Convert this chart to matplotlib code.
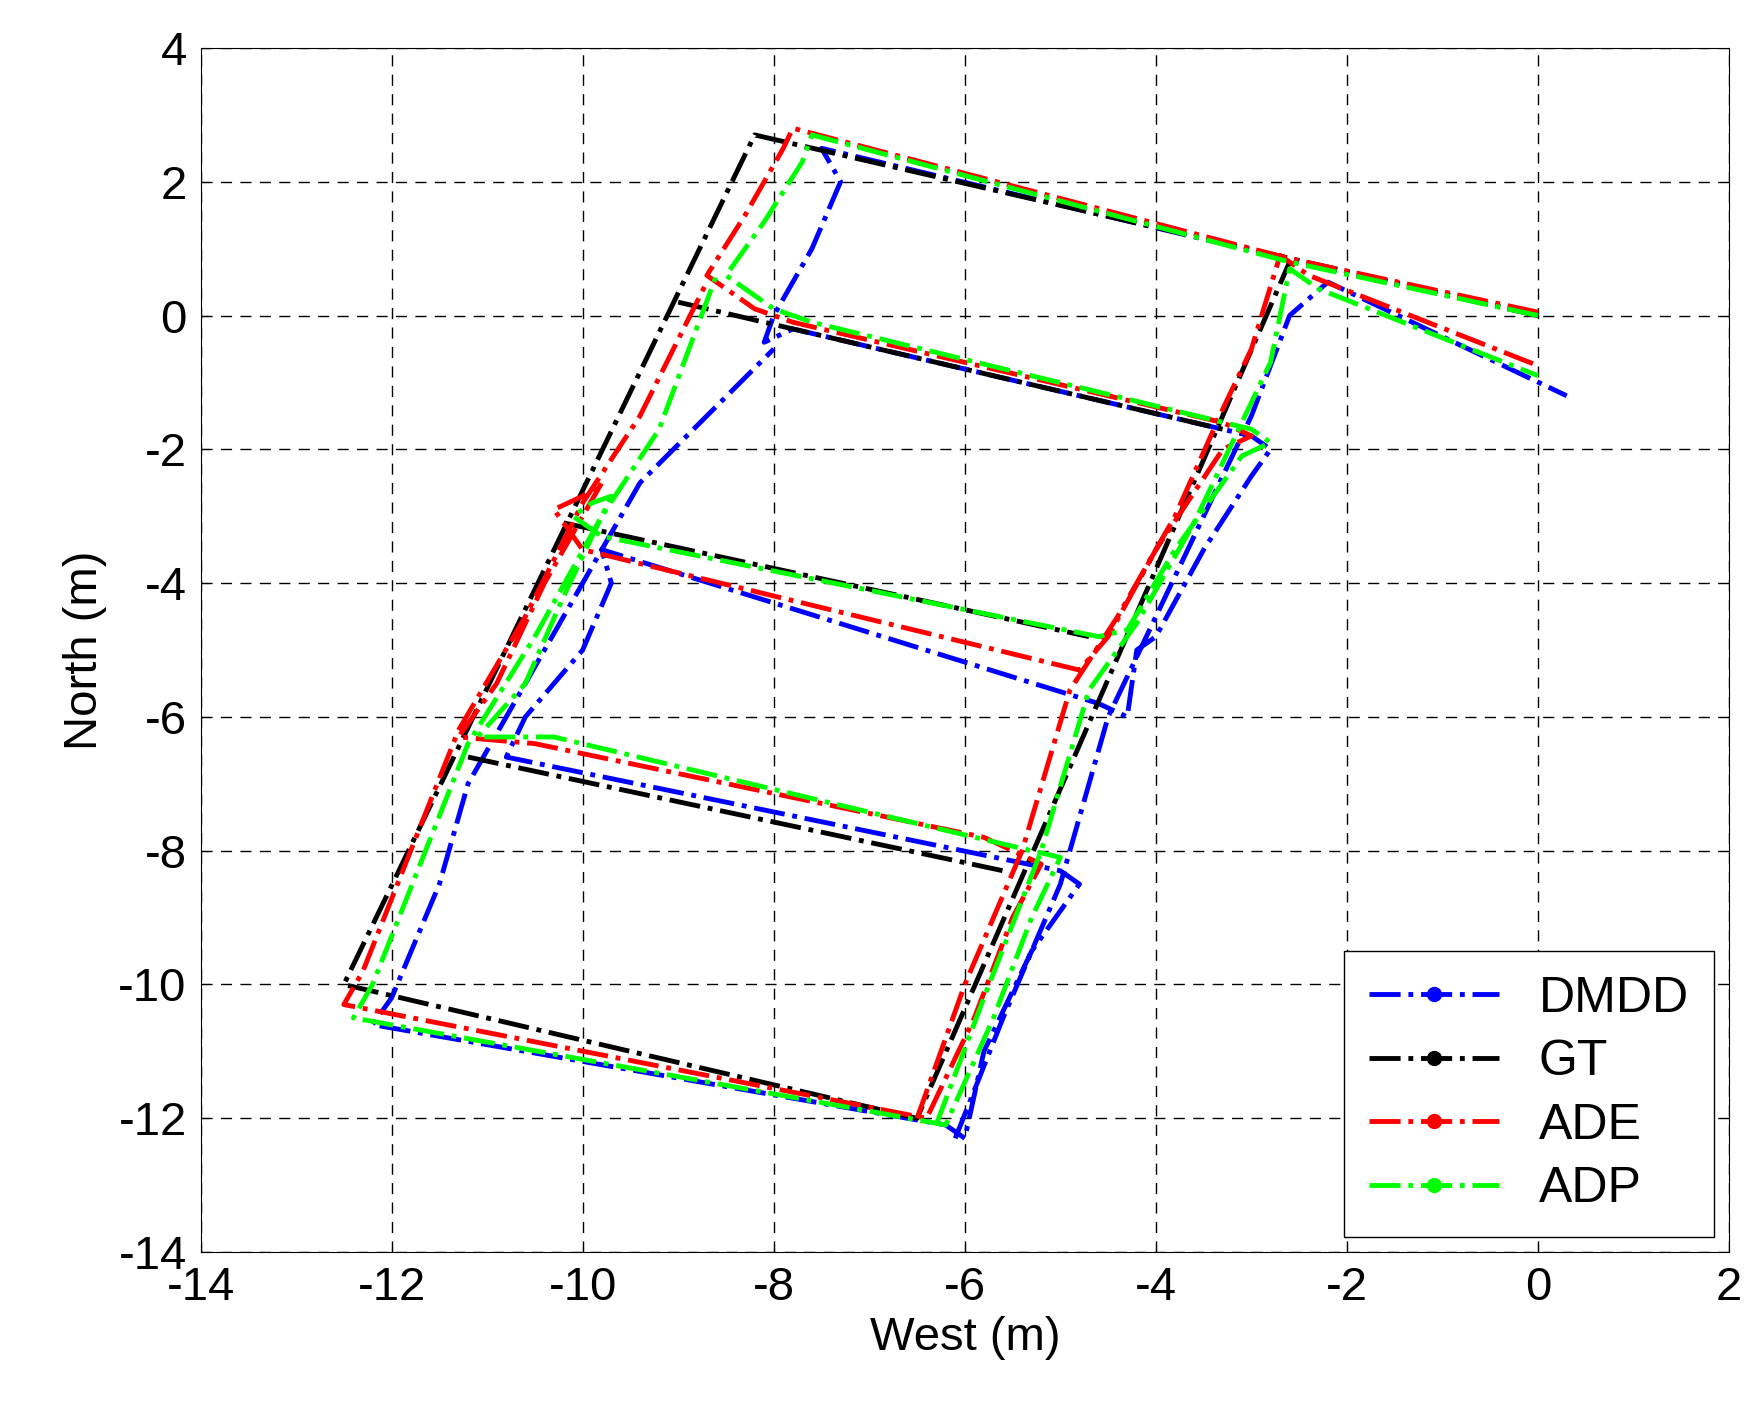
import numpy as np
import matplotlib
matplotlib.use("Agg")
import matplotlib.pyplot as plt
from matplotlib.lines import Line2D

n = np.nan
gt_x = [0, -8.2, -12.5, -6.5, -2.6, n, -9.0, -3.3, n, -10.2, -4.7, n, -11.2, -5.6]
gt_y = [0, 2.7, -10, -12, 0.8, n, 0.2, -1.7, n, -3.1, -4.8, n, -6.6, -8.3]

ade_x = [0, -2.6, -7.8, -7.9, -8.3, -8.7, -8.5, -8.2, -7.8, -3.3, -3.0, -3.3, -4.0, -4.5, -4.8,
         -10.0, -10.3, -10.0, -9.8, -10.4, -10.9, -11.3, -10.5, -5.8, -5.2, -5.5, -5.9, -6.4,
         -12.5, -12.3, -11.8, -11.3, -10.6, -10.0, -9.4, -8.7, n,
         -6.5, -6.0, -5.4, -4.9, -4.4, -3.8, -3.3, -3.0, -2.7, -2.4, 0]
ade_y = [0.05, 0.85, 2.8, 2.5, 1.5, 0.6, 0.4, 0.1, -0.1, -1.6, -1.8, -2.0, -3.5, -4.8, -5.3,
         -3.5, -2.9, -2.7, -2.5, -4.0, -5.5, -6.3, -6.4, -7.8, -8.2, -9.0, -10.5, -12.0,
         -10.3, -9.8, -8.0, -6.2, -4.5, -2.8, -1.5, 0.5, n,
         -12.0, -10.0, -8.0, -5.6, -4.5, -3.0, -1.4, -0.5, 0.9, 0.6, -0.75]

adp_x = [0, -2.6, -7.6, -7.7, -8.1, -8.5, -8.3, -8.0, -7.6, -3.0, -2.8, -3.1, -3.8, -4.3, -4.6,
         -9.8, -10.1, -9.9, -9.7, -10.2, -10.6, -11.1, -10.3, -5.6, -5.0, -5.3, -5.7, -6.2,
         -12.4, -12.2, -11.7, -11.2, -10.5, -9.8, -9.2, -8.6, n,
         -6.3, -5.8, -5.2, -4.7, -4.2, -3.6, -3.1, -2.8, -2.6, -2.3, 0]
adp_y = [0.0, 0.8, 2.7, 2.3, 1.4, 0.6, 0.4, 0.1, -0.1, -1.7, -1.9, -2.1, -3.5, -4.7, -4.8,
         -3.3, -3.0, -2.8, -2.7, -4.2, -5.5, -6.3, -6.3, -7.9, -8.1, -9.0, -10.5, -12.1,
         -10.5, -10.0, -8.2, -6.4, -4.8, -3.0, -1.7, 0.6, n,
         -12.1, -10.2, -8.0, -5.6, -4.6, -3.1, -1.6, -0.7, 0.7, 0.4, -0.9]

dmdd_x = [0, -2.2, -7.5, -7.3, -7.6, -8.0, -8.1, -7.8, -3.0, -2.8, -3.0, -3.5, -4.0, -4.2, -4.3, -4.6,
          -9.8, -9.7, -10.0, -10.6, -10.8, -5.0, -4.8, -5.3, -5.8, -6.0, -6.2,
          -12.2, -12.0, -11.5, -11.2, -10.6, -10.0, -9.4, -8.0, n,
          -6.1, -5.6, -5.0, -4.5, -4.0, -3.5, -3.0, -2.6, -2.2, 0.3]
dmdd_y = [0.0, 0.7, 2.5, 2.0, 1.0, 0.0, -0.4, -0.2, -1.8, -2.0, -2.4, -3.5, -4.8, -5.0, -6.0, -5.8,
          -3.5, -4.0, -5.0, -6.0, -6.6, -8.3, -8.5, -9.5, -11.0, -12.3, -12.1,
          -10.6, -10.2, -8.5, -7.0, -5.5, -4.0, -2.5, -0.5, n,
          -12.3, -10.5, -8.5, -6.0, -4.5, -3.0, -1.5, 0.0, 0.5, -1.2]

plt.rcParams['font.family'] = ['Liberation Sans', 'DejaVu Sans']
plt.rcParams['axes.unicode_minus'] = False
fig = plt.figure(figsize=(17.59, 14.10), dpi=100)
ax = fig.add_axes([0.114, 0.112, 0.869, 0.854])
lw = 3.5
series = [("DMDD", dmdd_x, dmdd_y, "#0000ff"), ("GT", gt_x, gt_y, "black"),
          ("ADE", ade_x, ade_y, "#ff0000"), ("ADP", adp_x, adp_y, "#00ff00")]
handles = []
for name, xs, ys, c in series:
    ax.plot(xs, ys, color=c, ls='-.', lw=lw)
    handles.append(Line2D([0], [0], color=c, ls='-.', lw=lw, marker='o', markersize=10))
ax.set_xlim(-14, 2)
ax.set_ylim(-14, 4)
ax.set_xticks(range(-14, 3, 2))
ax.set_yticks(range(-14, 5, 2))
ax.grid(True, color='black', ls=(0, (8, 6)), lw=1)
ax.tick_params(labelsize=34, direction='in', length=6, pad=10)
ax.set_xlabel("West (m)", fontsize=34, labelpad=4)
ax.set_ylabel("North (m)", fontsize=34, labelpad=8)
leg = ax.legend(handles=handles, labels=[s[0] for s in series], loc='lower right',
                fontsize=36, fancybox=False, edgecolor='black', framealpha=1,
                handlelength=2.6, numpoints=1, borderpad=0.5, labelspacing=0.35,
                borderaxespad=0.3)
leg.get_frame().set_linewidth(1)
fig.savefig("out.png", dpi=100)
